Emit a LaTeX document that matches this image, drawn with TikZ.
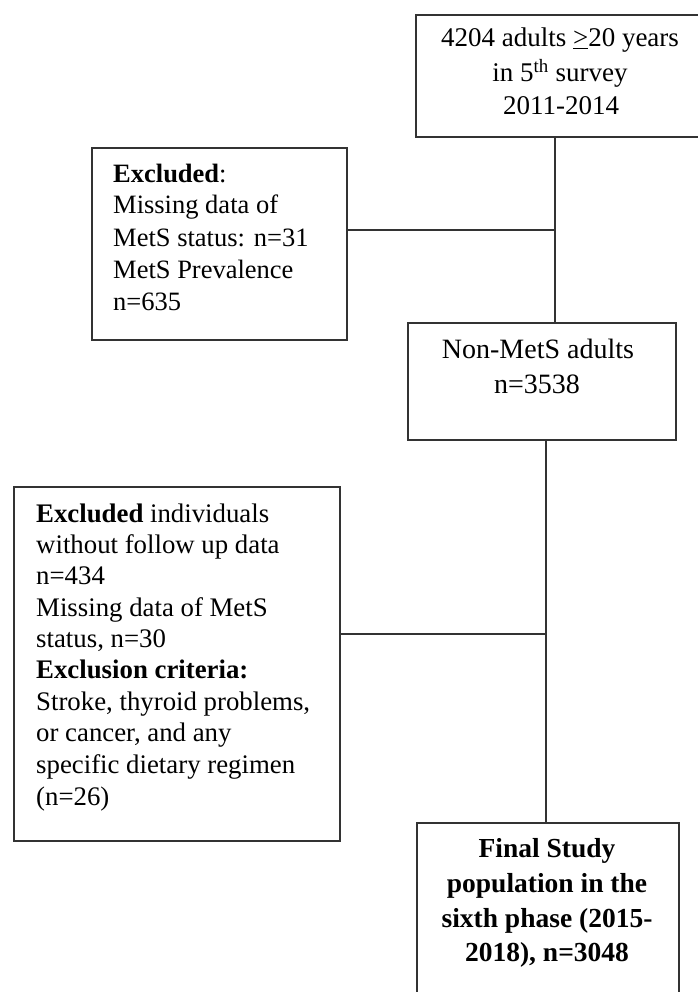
\documentclass[tikz,border=0pt]{standalone}
\usepackage{fontspec}
\setmainfont{Liberation Serif}
\begin{document}
\begin{tikzpicture}[x=1pt,y=-1pt,
  box/.style={draw=black!80, line width=1.6pt, rectangle, inner sep=0pt, anchor=north west},
  conn/.style={draw=black!80, line width=1.4pt},
  ltxt/.style={anchor=base west, inner sep=0pt, font=\fontsize{26.8}{31}\selectfont},
  ctxt/.style={anchor=base, inner sep=0pt, font=\fontsize{27}{31}\selectfont},
  btxt/.style={anchor=base, inner sep=0pt, font=\fontsize{27.5}{31}\selectfont\bfseries}]
\useasboundingbox (0,0) rectangle (697,992);
\fill[white] (0,0) rectangle (697,992);

% boxes
\node[box, minimum width=320pt, minimum height=122pt] (top) at (415,14) {};
\node[box, minimum width=255pt, minimum height=192pt] (exc1) at (91,147) {};
\node[box, minimum width=268pt, minimum height=117pt] (nonmets) at (407,322) {};
\node[box, minimum width=326pt, minimum height=354pt] (exc2) at (13,486) {};
\node[box, minimum width=262pt, minimum height=220pt] (final) at (416,822) {};

% connectors
\coordinate (j1) at (555,230);
\coordinate (j2) at (546,634);
\draw[conn] (j1 |- top.south) -- (j1 |- nonmets.north);
\draw[conn] (exc1.east |- j1) -- (j1);
\draw[conn] (j2 |- nonmets.south) -- (j2 |- final.north);
\draw[conn] (exc2.east |- j2) -- (j2);

% top box text
\node[ctxt] (t1) at (560,47) {4204 adults \underline{>}20 years};
\node[ctxt] (t2) at (560,82) {in 5\textsuperscript{th} survey};
\node[ctxt] (t3) at (561,115) {2011-2014};

% excluded 1 text
\node[ltxt, font=\fontsize{26.5}{31}\selectfont] (e1a) at (113,183) {\textbf{Excluded}:};
\node[ltxt, font=\fontsize{26.5}{31}\selectfont] (e1b) at (113,214) {Missing data of};
\node[ltxt, font=\fontsize{26.5}{31}\selectfont] (e1c) at (113,246) {MetS status: n=31};
\node[ltxt, font=\fontsize{26.5}{31}\selectfont] (e1d) at (113,278) {MetS Prevalence};
\node[ltxt, font=\fontsize{26.5}{31}\selectfont] (e1e) at (113,310) {n=635};

% non-MetS text
\node[ctxt, font=\fontsize{28}{31}\selectfont] (n1) at (538,358) {Non-MetS adults};
\node[ctxt, font=\fontsize{28}{31}\selectfont] (n2) at (537,393) {n=3538};

% excluded 2 text
\node[ltxt] (e2a) at (36,522) {\textbf{Excluded} individuals};
\node[ltxt] (e2b) at (36,553) {without follow up data};
\node[ltxt] (e2c) at (36,584) {n=434};
\node[ltxt] (e2d) at (36,616) {Missing data of MetS};
\node[ltxt] (e2e) at (36,647) {status, n=30};
\node[ltxt] (e2f) at (36,678) {\textbf{Exclusion criteria:}};
\node[ltxt] (e2g) at (36,710) {Stroke, thyroid problems,};
\node[ltxt] (e2h) at (36,741) {or cancer, and any};
\node[ltxt] (e2i) at (36,773) {specific dietary regimen};
\node[ltxt] (e2j) at (36,805) {(n=26)};

% final text
\node[btxt] (f1) at (547,857) {Final Study};
\node[btxt] (f2) at (547,892) {population in the};
\node[btxt] (f3) at (547,927) {sixth phase (2015-};
\node[btxt] (f4) at (547,961) {2018), n=3048};
\end{tikzpicture}
\end{document}
